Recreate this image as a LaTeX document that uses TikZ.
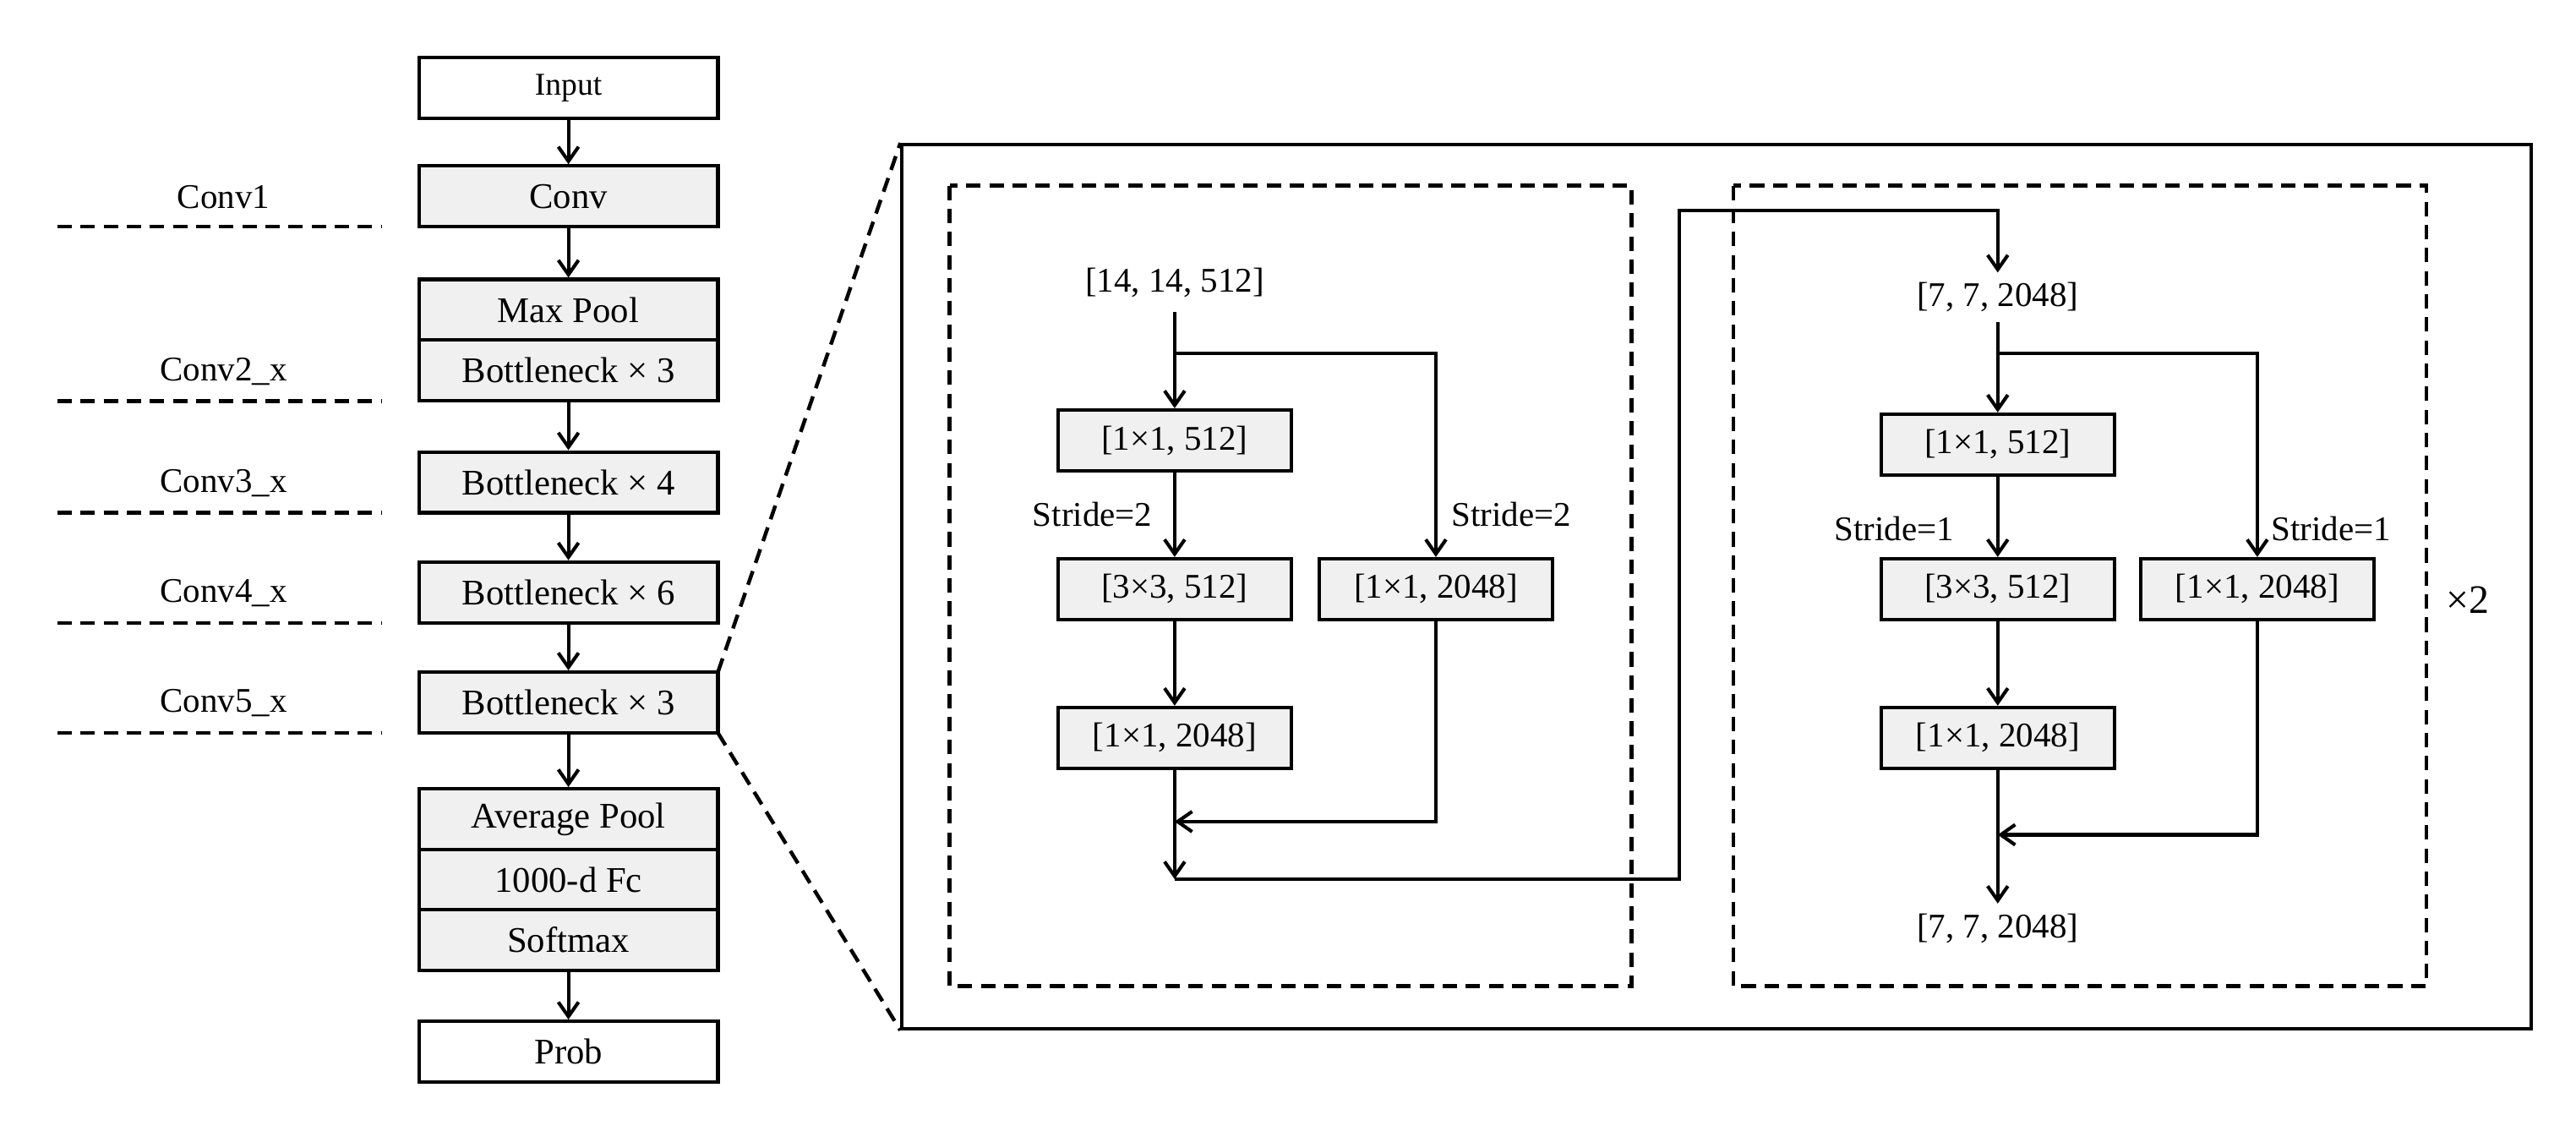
\documentclass[tikz,border=0pt]{standalone}
\usepackage{fontspec}
\setmainfont{Liberation Serif}
\usetikzlibrary{arrows.meta}
\begin{document}
\begin{tikzpicture}[x=0.02cm,y=-0.02cm,
  box/.style={draw,line width=1.2pt,fill=gray!12,minimum width=3.64cm,minimum height=0.74cm,inner sep=0pt,font=\fontsize{12.5}{14}\selectfont},
  wbox/.style={box,fill=white},
  ibox/.style={draw,line width=1.2pt,fill=gray!12,minimum width=2.84cm,minimum height=0.74cm,inner sep=0pt,font=\fontsize{12}{14}\selectfont},
  lab/.style={font=\fontsize{12}{14}\selectfont},
  arr/.style={line width=1.2pt,-{Straight Barb[length=5pt,width=7pt]}},
  ln/.style={line width=1.2pt},
  dsh/.style={line width=1.3pt,dash pattern=on 5pt off 3pt}]
\useasboundingbox (0,0) rectangle (1568,685);
% left column
\node[wbox,font=\fontsize{11}{13}\selectfont] (in) at (346,53.5) {Input};
\node[box] (conv) at (346,119.5) {Conv};
\node[box] (mp) at (346,188.5) {Max Pool};
\node[box] (b3) at (346,225.5) {Bottleneck × 3};
\node[box] (b4) at (346,293.5) {Bottleneck × 4};
\node[box] (b6) at (346,360.5) {Bottleneck × 6};
\node[box] (b5) at (346,427.5) {Bottleneck × 3};
\node[box] (ap) at (346,498.5) {Average Pool};
\node[box] (fc) at (346,535.5) {1000-d Fc};
\node[box] (sm) at (346,572) {Softmax};
\node[wbox] (pr) at (346,640) {Prob};
\foreach \a/\b in {in/conv,conv/mp,b3/b4,b4/b6,b6/b5,b5/ap,sm/pr} \draw[arr] (\a) -- (\b);
\foreach \y/\t in {138/Conv1,244/Conv2\_x,312/Conv3\_x,379/Conv4\_x,446/Conv5\_x}{
  \draw[dsh] (35,\y) -- (232,\y);
  \node[lab] at (136,\y-18) {\t};}
% big box
\node[draw,line width=1.2pt,minimum width=19.84cm,minimum height=10.76cm,inner sep=0pt] (big) at (1045,357) {};
\draw[dsh] (437,409) -- (big.north west);
\draw[dsh] (437,446) -- (big.south west);
\draw[dsh] (578,113) rectangle (993,600);
\draw[dsh] (1055,113) rectangle (1477,600);
% left block
\node[lab] (t1) at (715,172) {[14, 14, 512]};
\node[ibox] (a1) at (715,268) {[1×1, 512]};
\node[ibox] (a2) at (715,358.5) {[3×3, 512]};
\node[ibox] (a3) at (715,449) {[1×1, 2048]};
\node[ibox] (a4) at (874,358.5) {[1×1, 2048]};
\node[lab] at (665,313) {Stride=2};
\node[lab] at (920,313) {Stride=2};
\coordinate (s1) at (715,215);
\coordinate (m1) at (715,500);
\coordinate (e1) at (715,535);
\draw[ln] (715,190) -- (s1);
\draw[arr] (s1) -- (a1);
\draw[arr] (s1) -| (a4);
\draw[arr] (a1) -- (a2);
\draw[arr] (a2) -- (a3);
\draw[ln] (a3) -- (m1);
\draw[arr] (a4.south) |- (m1);
\draw[arr] (m1) -- (e1);
% connection
\node[lab] (t2) at (1216,181) {[7, 7, 2048]};
\draw[arr] (e1) -| (1022,128) -| (t2.north);
% right block
\node[ibox] (c1) at (1216,270.5) {[1×1, 512]};
\node[ibox] (c2) at (1216,358.5) {[3×3, 512]};
\node[ibox] (c3) at (1216,449) {[1×1, 2048]};
\node[ibox] (c4) at (1374,358.5) {[1×1, 2048]};
\node[lab] at (1153,322) {Stride=1};
\node[lab] at (1419,322) {Stride=1};
\node[lab] (t3) at (1216,565) {[7, 7, 2048]};
\coordinate (s2) at (1216,215);
\coordinate (m2) at (1216,508);
\draw[ln] (t2.south) -- (s2);
\draw[arr] (s2) -- (c1);
\draw[arr] (s2) -| (c4);
\draw[arr] (c1) -- (c2);
\draw[arr] (c2) -- (c3);
\draw[ln] (c3) -- (m2);
\draw[arr] (c4.south) |- (m2);
\draw[arr] (m2) -- (t3.north);
\node[font=\fontsize{14}{16}\selectfont] at (1502,365) {×2};
\end{tikzpicture}
\end{document}
